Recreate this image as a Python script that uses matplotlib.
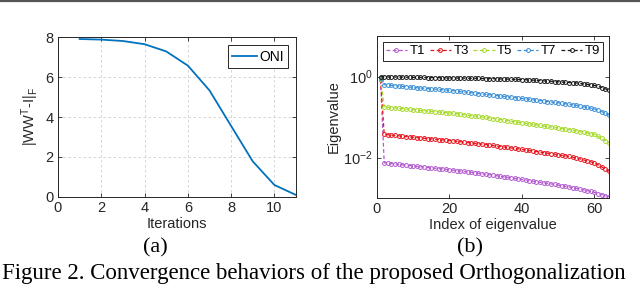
import numpy as np
import matplotlib
matplotlib.use("Agg")
import matplotlib.pyplot as plt

plt.rcParams["font.family"] = ["Liberation Sans", "DejaVu Sans"]
plt.rcParams["mathtext.fontset"] = "custom"
plt.rcParams["mathtext.rm"] = "Liberation Sans"
plt.rcParams["mathtext.it"] = "Liberation Sans"

# ---- data: (a) orthogonality error vs iterations ----
iters = [1, 2, 3, 4, 5, 6, 7, 8, 9, 10, 11]
oni_err = [7.90, 7.87, 7.80, 7.64, 7.28, 6.57, 5.33, 3.55, 1.78, 0.60, 0.10]

# ---- data: (b) eigenvalues per iteration ----
eig_idx = list(range(1, 65))
eig_T1 = [0.80, 0.00741, 0.00724, 0.00707, 0.00690, 0.00674, 0.00661, 0.00646, 0.00631, 0.00617,
          0.00604, 0.00591, 0.00578, 0.00566, 0.00554, 0.00543, 0.00532, 0.00521, 0.00511, 0.00501,
          0.00488, 0.00476, 0.00464, 0.00452, 0.00441, 0.00430, 0.00419, 0.00409, 0.00399, 0.00389,
          0.00377, 0.00366, 0.00355, 0.00344, 0.00334, 0.00324, 0.00314, 0.00305, 0.00296, 0.00288,
          0.00279, 0.00270, 0.00261, 0.00253, 0.00245, 0.00237, 0.00230, 0.00223, 0.00216, 0.00209,
          0.00201, 0.00194, 0.00187, 0.00180, 0.00174, 0.00166, 0.00159, 0.00152, 0.00145, 0.00138,
          0.00129, 0.00121, 0.00114, 0.00107]
eig_T3 = [0.85, 0.0372, 0.0365, 0.0357, 0.0350, 0.0343, 0.0336, 0.0329, 0.0323, 0.0316,
          0.0310, 0.0305, 0.0299, 0.0294, 0.0288, 0.0283, 0.0278, 0.0273, 0.0268, 0.0263,
          0.0257, 0.0251, 0.0245, 0.0240, 0.0234, 0.0229, 0.0224, 0.0219, 0.0214, 0.0209,
          0.0203, 0.0198, 0.0192, 0.0187, 0.0182, 0.0177, 0.0172, 0.0167, 0.0163, 0.0158,
          0.0153, 0.0149, 0.0144, 0.0140, 0.0136, 0.0132, 0.0128, 0.0124, 0.0121, 0.0117,
          0.0113, 0.0110, 0.0106, 0.0101, 0.00977, 0.00923, 0.00872, 0.00826, 0.00782, 0.00741,
          0.00658, 0.00585, 0.00517, 0.00457]
eig_T5 = [0.88, 0.178, 0.174, 0.171, 0.167, 0.164, 0.161, 0.157, 0.154, 0.151,
          0.148, 0.145, 0.143, 0.140, 0.138, 0.135, 0.133, 0.130, 0.128, 0.126,
          0.123, 0.120, 0.117, 0.114, 0.111, 0.108, 0.106, 0.103, 0.100, 0.0977,
          0.0948, 0.0919, 0.0892, 0.0865, 0.0839, 0.0814, 0.0789, 0.0766, 0.0743, 0.0724,
          0.0702, 0.0681, 0.0661, 0.0641, 0.0622, 0.0603, 0.0585, 0.0568, 0.0551, 0.0537,
          0.0519, 0.0502, 0.0486, 0.0471, 0.0457, 0.0438, 0.0419, 0.0404, 0.0388, 0.0372,
          0.0331, 0.0299, 0.0262, 0.0229]
eig_T7 = [0.90, 0.631, 0.618, 0.605, 0.593, 0.581, 0.570, 0.559, 0.548, 0.537,
          0.528, 0.520, 0.512, 0.503, 0.495, 0.487, 0.480, 0.472, 0.464, 0.457,
          0.447, 0.437, 0.427, 0.417, 0.407, 0.398, 0.389, 0.380, 0.371, 0.363,
          0.355, 0.347, 0.339, 0.331, 0.324, 0.316, 0.309, 0.302, 0.295, 0.288,
          0.281, 0.274, 0.267, 0.260, 0.254, 0.248, 0.241, 0.235, 0.230, 0.224,
          0.218, 0.212, 0.206, 0.200, 0.195, 0.187, 0.179, 0.172, 0.165, 0.158,
          0.147, 0.136, 0.124, 0.111]
eig_T9 = [1.00, 0.977, 0.975, 0.972, 0.970, 0.968, 0.965, 0.962, 0.959, 0.955,
          0.952, 0.949, 0.946, 0.943, 0.940, 0.936, 0.933, 0.930, 0.926, 0.923,
          0.920, 0.917, 0.914, 0.910, 0.907, 0.904, 0.901, 0.898, 0.894, 0.891,
          0.886, 0.881, 0.876, 0.871, 0.866, 0.861, 0.856, 0.851, 0.846, 0.841,
          0.832, 0.823, 0.813, 0.803, 0.793, 0.782, 0.772, 0.762, 0.751, 0.741,
          0.731, 0.721, 0.711, 0.701, 0.692, 0.674, 0.656, 0.638, 0.620, 0.603,
          0.570, 0.535, 0.497, 0.457]
series_names = ["T1", "T3", "T5", "T7", "T9"]
series_colors = ["#b35ad0", "#e8141c", "#a6d92a", "#3a8fd8", "#1a1a1a"]

fig = plt.figure(figsize=(6.4, 2.9), dpi=100)

def matlab_axes(ax):
    ax.tick_params(direction="in", top=True, right=True, labelsize=10.5,
                   length=3, width=0.6, colors="#262626", pad=3)
    for s in ax.spines.values():
        s.set_color("#262626"); s.set_linewidth(0.7)

# ---- (a) ----
ax1 = fig.add_axes([0.0906, 0.3207, 0.372, 0.5517])
ax1.plot(iters, oni_err, color="#0072BD", lw=1.3, label="ONI")
ax1.set_xlim(0, 11); ax1.set_ylim(0, 8)
ax1.set_xticks([0, 2, 4, 6, 8, 10]); ax1.set_yticks([0, 2, 4, 6, 8])
ax1.grid(True, ls=(0, (3, 3)), color="#cfcfcf", lw=0.6)
matlab_axes(ax1)
ax1.set_xlabel("Iterations", fontsize=10.5, labelpad=1, color="#262626")
ax1.set_ylabel(r"|WW$^{\mathrm{T}}$-I|$_{\mathrm{F}}$", fontsize=10.5, labelpad=3, color="#262626")
leg1 = ax1.legend(loc="upper right", fontsize=10, handlelength=1.8, handletextpad=0.15,
                  borderpad=0.3, fancybox=False, framealpha=1, borderaxespad=0.6)
leg1.get_frame().set_edgecolor("#262626"); leg1.get_frame().set_linewidth(0.7)

# ---- (b) ----
ax2 = fig.add_axes([0.589, 0.3172, 0.3625, 0.5586])
for name, vals, c in zip(series_names, [eig_T1, eig_T3, eig_T5, eig_T7, eig_T9], series_colors):
    ax2.plot(eig_idx, vals, ls=(0, (3, 2)), color=c, lw=0.9, marker="o", ms=2.8,
             mfc="none", mew=0.7, label=name)
ax2.set_yscale("log")
ax2.set_xlim(0, 64); ax2.set_ylim(1e-3, 1e1)
ax2.set_xticks([0, 20, 40, 60])
ax2.set_yticks([1e-2, 1e0])
ax2.yaxis.set_minor_locator(matplotlib.ticker.NullLocator())
matlab_axes(ax2)
ax2.set_xlabel("Index of eigenvalue", fontsize=10.5, labelpad=1, color="#262626")
ax2.set_ylabel("Eigenvalue", fontsize=10.5, labelpad=2, color="#262626")
leg2 = ax2.legend(loc="upper center", ncol=5, fontsize=9.5, handlelength=1.6, handletextpad=0.2,
                  columnspacing=0.35, borderpad=0.25, borderaxespad=0.45, fancybox=False,
                  framealpha=1)
leg2.get_frame().set_edgecolor("#262626"); leg2.get_frame().set_linewidth(0.7)

# ---- captions ----
fig.text(155 / 640, 1 - 248 / 290, "(a)", ha="center", va="center", fontsize=16,
         family="Liberation Serif")
fig.text(470 / 640, 1 - 248 / 290, "(b)", ha="center", va="center", fontsize=16,
         family="Liberation Serif")
fig.text(2 / 640, 1 - 274 / 290, "Figure 2. Convergence behaviors of the proposed Orthogonalization",
         ha="left", va="center", fontsize=16.5, family="Liberation Serif")
# dark rule at top edge
fig.add_artist(plt.Line2D([0, 1], [0.997, 0.997], color="#555555", lw=1.6,
                          transform=fig.transFigure))

fig.savefig("out.png", dpi=100)
